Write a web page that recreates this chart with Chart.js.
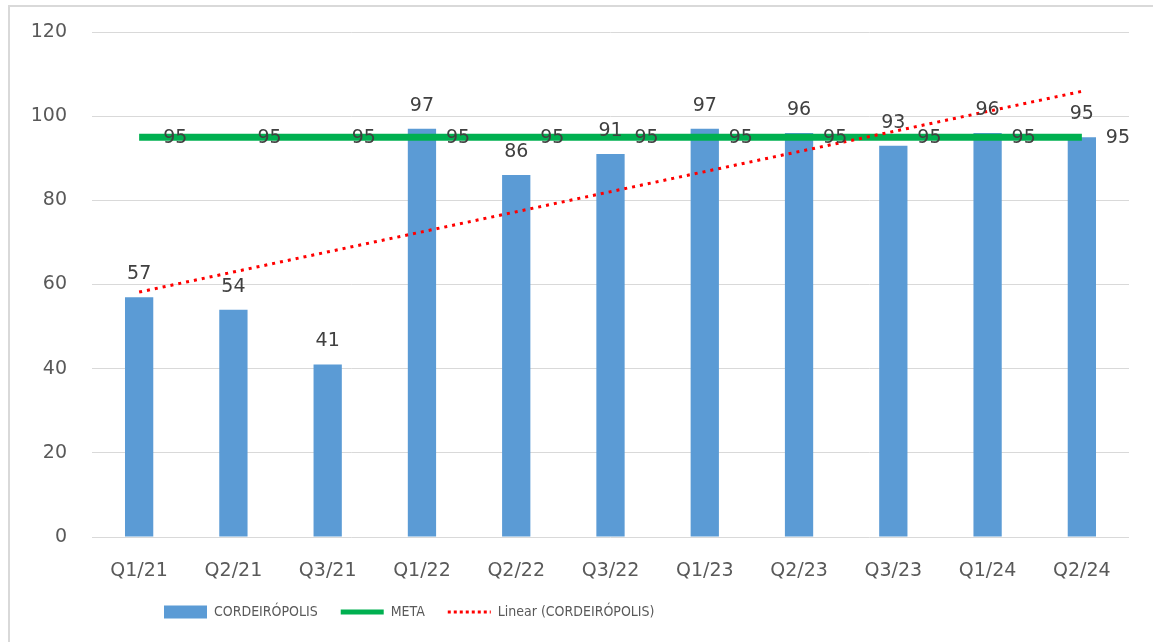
<!DOCTYPE html>
<html>
<head>
<meta charset="utf-8">
<script src="https://cdn.jsdelivr.net/npm/chart.js@4/dist/chart.umd.min.js"></script>
<style>
    html, body { margin: 0; padding: 0; background: #fff; overflow: hidden; }
    #wrap { position: relative; width: 1153px; height: 642px; }
    #frame { position: absolute; left: 8px; top: 5px; width: 1160px; height: 650px; border: 2px solid #d9d9d9; box-sizing: border-box; pointer-events: none; }
    canvas { display: block; }
</style>
</head>
<body>
<div id="wrap">
    <canvas id="chart" width="1153" height="642"></canvas>
    <div id="frame"></div>
</div>
<script>
// Dados do gráfico
const labels = ['Q1/21', 'Q2/21', 'Q3/21', 'Q1/22', 'Q2/22', 'Q3/22', 'Q1/23', 'Q2/23', 'Q3/23', 'Q1/24', 'Q2/24'];
const cordeiropolis = [57, 54, 41, 97, 86, 91, 97, 96, 93, 96, 95];
const meta = [95, 95, 95, 95, 95, 95, 95, 95, 95, 95, 95];
// linha de tendência (início e fim)
const linear = [58.2, null, null, null, null, null, null, null, null, null, 105.9];
const yTicks = [0, 20, 40, 60, 80, 100, 120];

const tickFont = { family: 'DejaVu Sans', size: 19 };

// Plugin simples para os rótulos de dados
const valueLabels = {
    id: 'valueLabels',
    afterDatasetsDraw(chart) {
        const ctx = chart.ctx;
        ctx.save();
        ctx.font = '19px "DejaVu Sans"';
        ctx.fillStyle = '#404040';
        ctx.textBaseline = 'middle';

        // barras: acima da barra
        const barMeta = chart.getDatasetMeta(0);
        ctx.textAlign = 'center';
        barMeta.data.forEach(function (bar, i) {
            ctx.fillText(String(cordeiropolis[i]), bar.x, bar.y - 23);
        });

        // META: à direita do ponto
        const lineMeta = chart.getDatasetMeta(1);
        ctx.textAlign = 'left';
        lineMeta.data.forEach(function (pt, i) {
            ctx.fillText(String(meta[i]), pt.x + 24, pt.y + 1);
        });
        ctx.restore();
    }
};

// Desloca a legenda para a esquerda como no original
const legendShift = {
    id: 'legendShift',
    afterLayout(chart) {
        chart.legend.left = 141;
    }
};

const ctx = document.getElementById('chart').getContext('2d');
const chart = new Chart(ctx, {
    type: 'bar',
    data: {
        labels: labels,
        datasets: [{
            type: 'bar',
            label: 'CORDEIRÓPOLIS',
            data: cordeiropolis,
            backgroundColor: '#5b9bd5',
            borderWidth: 0,
            categoryPercentage: 1,
            barPercentage: 0.3,
            order: 3
        }, {
            type: 'line',
            label: 'META',
            data: meta,
            borderColor: '#00b050',
            borderWidth: 7,
            pointRadius: 0,
            fill: false,
            order: 2
        }, {
            type: 'line',
            label: 'Linear (CORDEIRÓPOLIS)',
            data: linear,
            borderColor: '#ff0000',
            borderWidth: 3,
            borderDash: [3, 5],
            pointRadius: 0,
            spanGaps: true,
            fill: false,
            order: 1
        }]
    },
    options: {
        responsive: false,
        animation: false,
        layout: { padding: { top: 32, right: 24, bottom: 13, left: 0 } },
        scales: {
            x: {
                grid: { display: false },
                border: { display: false },
                ticks: { color: '#595959', font: tickFont, padding: 15, maxRotation: 0 },
                afterFit(scale) { scale.height = 45; }
            },
            y: {
                min: 0,
                max: 120,
                afterBuildTicks(scale) { scale.ticks = yTicks.map(v => ({ value: v })); },
                grid: { color: '#d9d9d9', lineWidth: 1, drawTicks: false },
                border: { display: false },
                ticks: { color: '#595959', font: tickFont, padding: 25 },
                afterFit(scale) {
                    scale.width = 92;
                    scale.paddingTop = 0;
                    scale.paddingBottom = 0;
                }
            }
        },
        plugins: {
            tooltip: { enabled: false },
            legend: {
                position: 'bottom',
                align: 'start',
                labels: {
                    color: '#595959',
                    font: { family: '"Liberation Sans Narrow", "DejaVu Sans Condensed", sans-serif', size: 14 },
                    usePointStyle: true,
                    pointStyleWidth: 43,
                    boxHeight: 13,
                    padding: 23,
                    sort: (a, b) => a.datasetIndex - b.datasetIndex,
                    generateLabels(chart) {
                        const items = Chart.defaults.plugins.legend.labels.generateLabels(chart);
                        items.forEach(function (item) {
                            if (item.datasetIndex === 0) {
                                item.pointStyle = 'rect';
                                item.fillStyle = '#5b9bd5';
                                item.lineWidth = 0;
                            } else if (item.datasetIndex === 1) {
                                item.pointStyle = 'line';
                                item.strokeStyle = '#00b050';
                                item.lineWidth = 5;
                                item.lineDash = [];
                            } else {
                                item.pointStyle = 'line';
                                item.strokeStyle = '#ff0000';
                                item.lineWidth = 3;
                                item.lineDash = [3, 3];
                            }
                        });
                        return items;
                    }
                }
            }
        }
    },
    plugins: [valueLabels, legendShift]
});
</script>
</body>
</html>
